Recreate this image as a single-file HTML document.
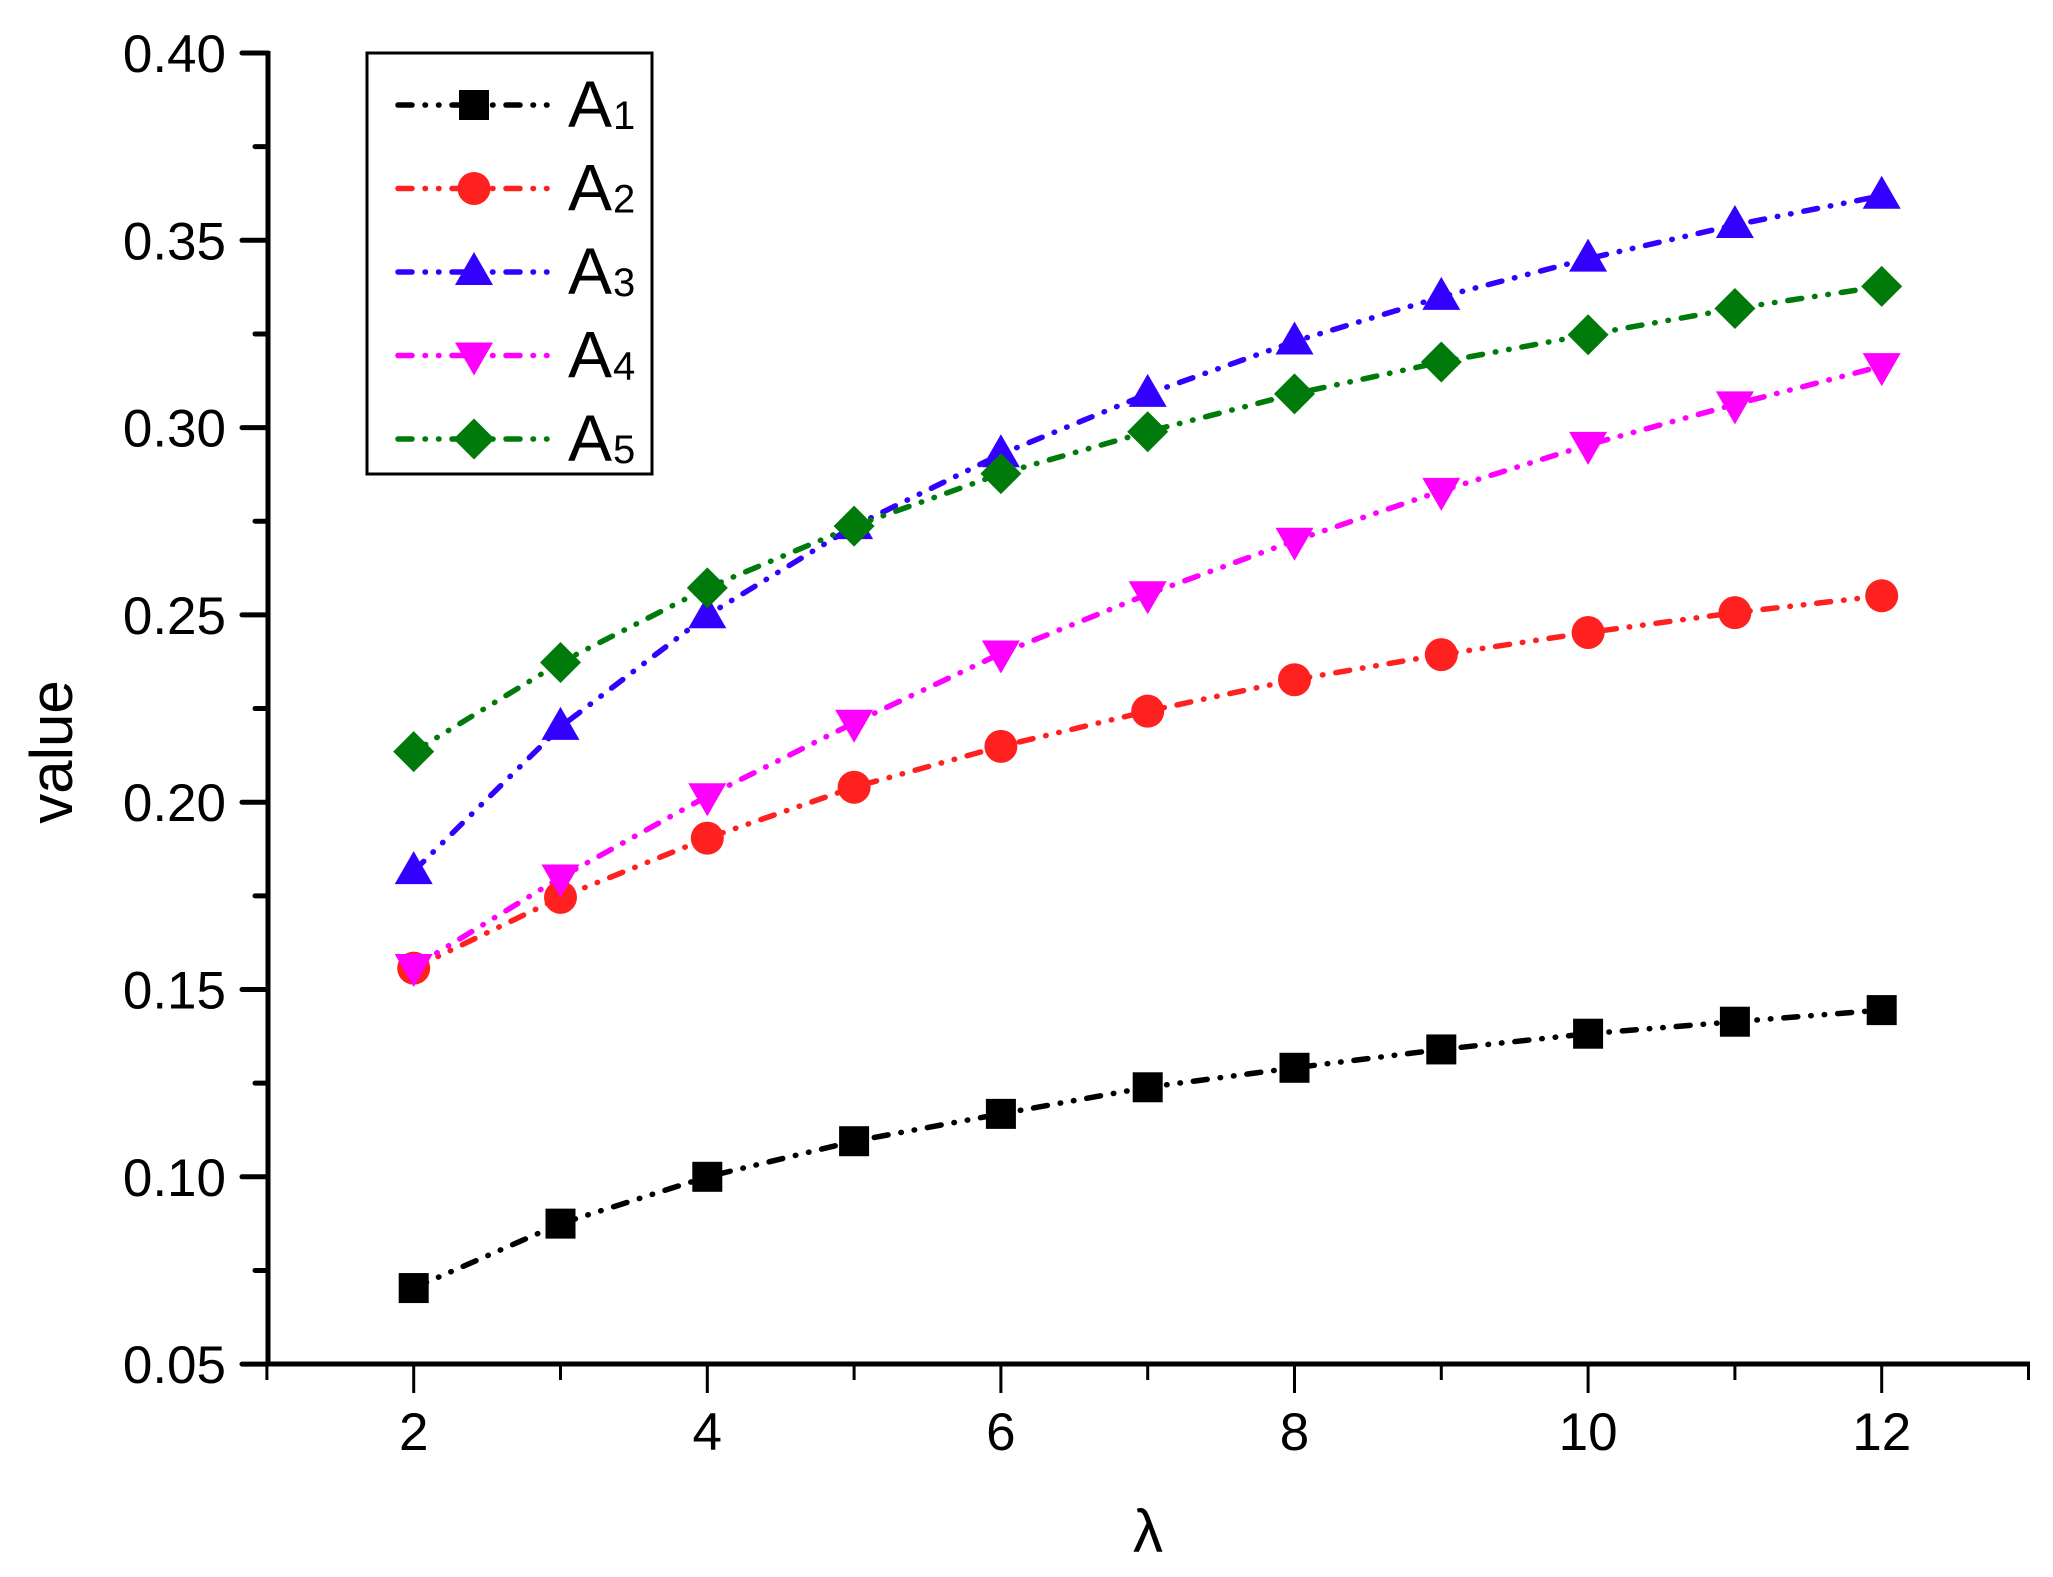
<!DOCTYPE html>
<html><head><meta charset="utf-8"><style>
html,body{margin:0;padding:0;background:#fff;}
svg{display:block;}
text{font-family:"Liberation Sans",Arial,sans-serif;}
</style></head><body>
<svg width="2053" height="1577" viewBox="0 0 2053 1577" xmlns="http://www.w3.org/2000/svg">
<defs>
<rect id="sq" x="-15" y="-15" width="30" height="30"/>
<circle id="ci" r="16.5"/>
<polygon id="tu" points="0,-20 19,13 -19,13"/>
<polygon id="td" points="0,20 19,-13 -19,-13"/>
<polygon id="di" points="0,-20.5 20.5,0 0,20.5 -20.5,0"/>
</defs>
<g stroke="#000" stroke-width="5" fill="none">
<line x1="268" y1="51" x2="268" y2="1366"/>
<line x1="266" y1="1364" x2="2030" y2="1364"/>
</g>
<g id="yticks" stroke="#000" stroke-width="5" stroke-linecap="round"></g>
<g id="xticks" stroke="#000" stroke-width="3"></g>
<g id="ylab" font-size="53" text-anchor="end" fill="#000"></g>
<g id="xlab" font-size="53" text-anchor="middle" fill="#000"></g>
<text x="1148" y="1552" font-size="60" text-anchor="middle">λ</text>
<text transform="translate(72,752) rotate(-90)" font-size="60" text-anchor="middle">value</text>
<g id="series"></g>
<rect x="367" y="53" width="285" height="421" fill="#fff" stroke="#000" stroke-width="3"/>
<g id="legend"></g>
<script>
var ns="http://www.w3.org/2000/svg";
function el(t,a,p){var e=document.createElementNS(ns,t);for(var k in a)e.setAttribute(k,a[k]);p.appendChild(e);return e;}
function Y(v){return 53+(0.40-v)/0.05*187.3;}
function X(x){return 413.7+(x-2)*146.8;}
var yt=document.getElementById('yticks'),yl=document.getElementById('ylab');
for(var i=0;i<=14;i++){var v=0.05+i*0.025,y=Y(v),maj=i%2==0;
 el('line',{x1:maj?242:255,y1:y,x2:268,y2:y},yt);
 if(maj){var t=el('text',{x:226,y:y+19},yl);t.textContent=v.toFixed(2);}}
var xt=document.getElementById('xticks'),xl=document.getElementById('xlab');
for(var x=1;x<=13;x++){var px=X(x),maj=x%2==0;
 el('line',{x1:px,y1:1364,x2:px,y2:maj?1393:1380},xt);
 if(maj){var t=el('text',{x:px,y:1450},xl);t.textContent=x;}}
var S=[
 ['#000','sq',[0.0703,0.0875,0.1000,0.1095,0.1168,0.1239,0.1291,0.1340,0.1382,0.1414,0.1445]],
 ['#ff2020','ci',[0.1557,0.1746,0.1904,0.2040,0.2149,0.2243,0.2327,0.2394,0.2453,0.2506,0.2551]],
 ['#3300ff','tu',[0.1816,0.2201,0.2499,0.2737,0.2929,0.3090,0.3230,0.3349,0.3451,0.3541,0.3619]],
 ['#ff00ff','td',[0.1560,0.1799,0.2016,0.2212,0.2397,0.2555,0.2698,0.2831,0.2954,0.3062,0.3164]],
 ['#007a0a','di',[0.2135,0.2373,0.2572,0.2737,0.2877,0.2989,0.3090,0.3175,0.3248,0.3318,0.3377]]];
var sg=document.getElementById('series'),lg=document.getElementById('legend');
var da="14 13 0.5 13 0.5 13";
S.forEach(function(s,k){
 var pts=s[2].map(function(v,i){return X(i+2)+','+Y(v);}).join(' ');
 el('polyline',{points:pts,fill:'none',stroke:s[0],'stroke-width':5.5,'stroke-linecap':'round','stroke-dasharray':da},sg);
});
S.forEach(function(s,k){
 s[2].forEach(function(v,i){el('use',{href:'#'+s[1],x:X(i+2),y:Y(v),fill:s[0]},sg);});
 var ly=105+k*83.5;
 el('line',{x1:398,y1:ly,x2:548,y2:ly,stroke:s[0],'stroke-width':5.5,'stroke-linecap':'round','stroke-dasharray':"14 13 0.5 13 0.5 13"},lg);
 el('use',{href:'#'+s[1],x:474,y:ly,fill:s[0]},lg);
 var t=el('text',{x:568,y:ly+22,'font-size':66,fill:'#000'},lg);t.textContent='A';
 var t2=el('text',{x:613,y:ly+24,'font-size':40,fill:'#000'},lg);t2.textContent=(k+1);
});
</script>
</svg>
</body></html>
